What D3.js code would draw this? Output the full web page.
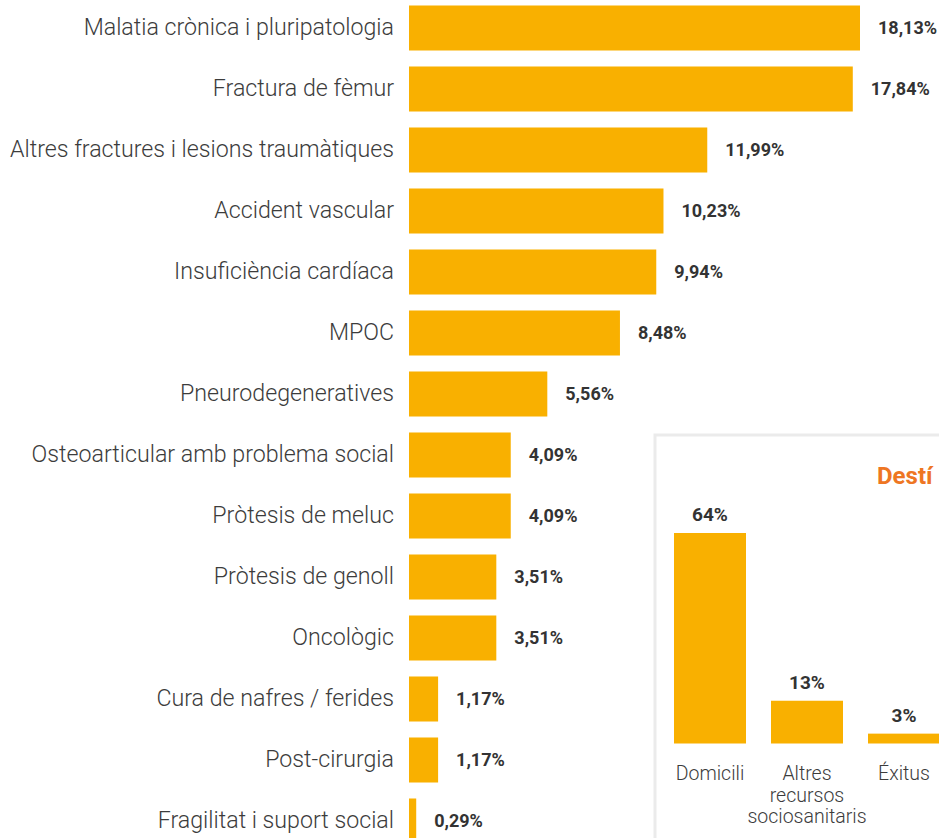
<!DOCTYPE html>
<html>
<head>
<meta charset="utf-8">
<script src="https://cdn.jsdelivr.net/npm/d3@7"></script>
<style>
  html, body { margin: 0; padding: 0; background: #fff; }
  svg { display: block; }
  .cat { font-family: Roboto, sans-serif; font-weight: 300; fill: #3c3c3c; }
  .val { font-family: Roboto, sans-serif; font-weight: 700; fill: #333; }
</style>
</head>
<body>
<div id="chart"></div>
<script>
  // main chart: % of patients by diagnostic group
  var categories = [
    'Malatia crònica i pluripatologia',
    'Fractura de fèmur',
    'Altres fractures i lesions traumàtiques',
    'Accident vascular',
    'Insuficiència cardíaca',
    'MPOC',
    'Pneurodegeneratives',
    'Osteoarticular amb problema social',
    'Pròtesis de meluc',
    'Pròtesis de genoll',
    'Oncològic',
    'Cura de nafres / ferides',
    'Post-cirurgia',
    'Fragilitat i suport social'
  ];
  var values = [18.13, 17.84, 11.99, 10.23, 9.94, 8.48, 5.56, 4.09, 4.09, 3.51, 3.51, 1.17, 1.17, 0.29];

  // inset: destination at discharge
  var destTitle = 'Destí';
  var destCategories = ['Domicili', 'Altres recursos sociosanitaris', 'Éxitus'];
  var destLines = [['Domicili'], ['Altres', 'recursos', 'sociosanitaris'], ['Éxitus']];
  var destValues = [64, 13, 3];

  const W = 939, H = 838;
  const BAR = '#f9b000';

  var fmt = function(v) { return d3.format('.2f')(v).replace('.', ',') + '%'; };

  var svg = d3.select('#chart').append('svg')
    .attr('width', W)
    .attr('height', H);

  var x = d3.scaleLinear()
    .domain([0, 18.13])
    .range([409, 860]);

  var y = d3.scaleBand()
    .domain(categories)
    .range([-2.5, 851.5])
    .paddingInner(0.262)
    .paddingOuter(0.131);

  var rows = svg.selectAll('.row')
    .data(categories)
    .enter().append('g')
    .attr('class', 'row');

  rows.append('rect')
    .attr('x', x(0))
    .attr('y', function(d) { return y(d); })
    .attr('width', function(d, i) { return x(values[i]) - x(0); })
    .attr('height', y.bandwidth())
    .style('fill', BAR);

  rows.append('text')
    .attr('class', 'cat')
    .attr('x', 394)
    .attr('y', function(d) { return y(d) + y.bandwidth() / 2; })
    .attr('dy', '0.3em')
    .attr('text-anchor', 'end')
    .style('font-size', '23.2px')
    .text(function(d) { return d; });

  rows.append('text')
    .attr('class', 'val')
    .attr('x', function(d, i) { return x(values[i]) + 18; })
    .attr('y', function(d) { return y(d) + y.bandwidth() / 2; })
    .attr('dy', '0.36em')
    .style('font-size', '18px')
    .text(function(d, i) { return fmt(values[i]); });

  // inset box
  var inset = svg.append('g');

  inset.append('rect')
    .attr('x', 655)
    .attr('y', 435)
    .attr('width', 400)
    .attr('height', 500)
    .style('fill', '#fff')
    .style('stroke', '#ebebeb')
    .style('stroke-width', 3);

  inset.append('text')
    .attr('x', 877)
    .attr('y', 484)
    .style('font-family', 'Roboto, sans-serif')
    .style('font-weight', 700)
    .style('font-size', '24px')
    .style('fill', '#ee7623')
    .text(destTitle);

  var dx = d3.scaleBand()
    .domain(destCategories)
    .range([674, 940])
    .paddingInner(25 / 97)
    .paddingOuter(0);

  var dy = d3.scaleLinear()
    .domain([0, 64])
    .range([743.5, 533]);

  var cols = inset.selectAll('.col')
    .data(destCategories)
    .enter().append('g')
    .attr('class', 'col');

  cols.append('rect')
    .attr('x', function(d) { return dx(d); })
    .attr('y', function(d, i) { return dy(destValues[i]); })
    .attr('width', dx.bandwidth())
    .attr('height', function(d, i) { return dy(0) - dy(destValues[i]); })
    .style('fill', BAR);

  cols.append('text')
    .attr('class', 'val')
    .attr('x', function(d) { return dx(d) + dx.bandwidth() / 2; })
    .attr('y', function(d, i) { return dy(destValues[i]) - 12; })
    .attr('text-anchor', 'middle')
    .style('font-size', '19px')
    .text(function(d, i) { return destValues[i] + '%'; });

  cols.append('text')
    .attr('class', 'cat')
    .attr('x', function(d) { return dx(d) + dx.bandwidth() / 2; })
    .attr('y', 780)
    .attr('text-anchor', 'middle')
    .style('font-size', '19.5px')
    .selectAll('tspan')
    .data(function(d, i) { return destLines[i]; })
    .enter().append('tspan')
    .attr('x', function() { return +d3.select(this.parentNode).attr('x'); })
    .attr('dy', function(d, i) { return i ? 21.5 : 0; })
    .text(function(d) { return d; });
</script>
</body>
</html>
